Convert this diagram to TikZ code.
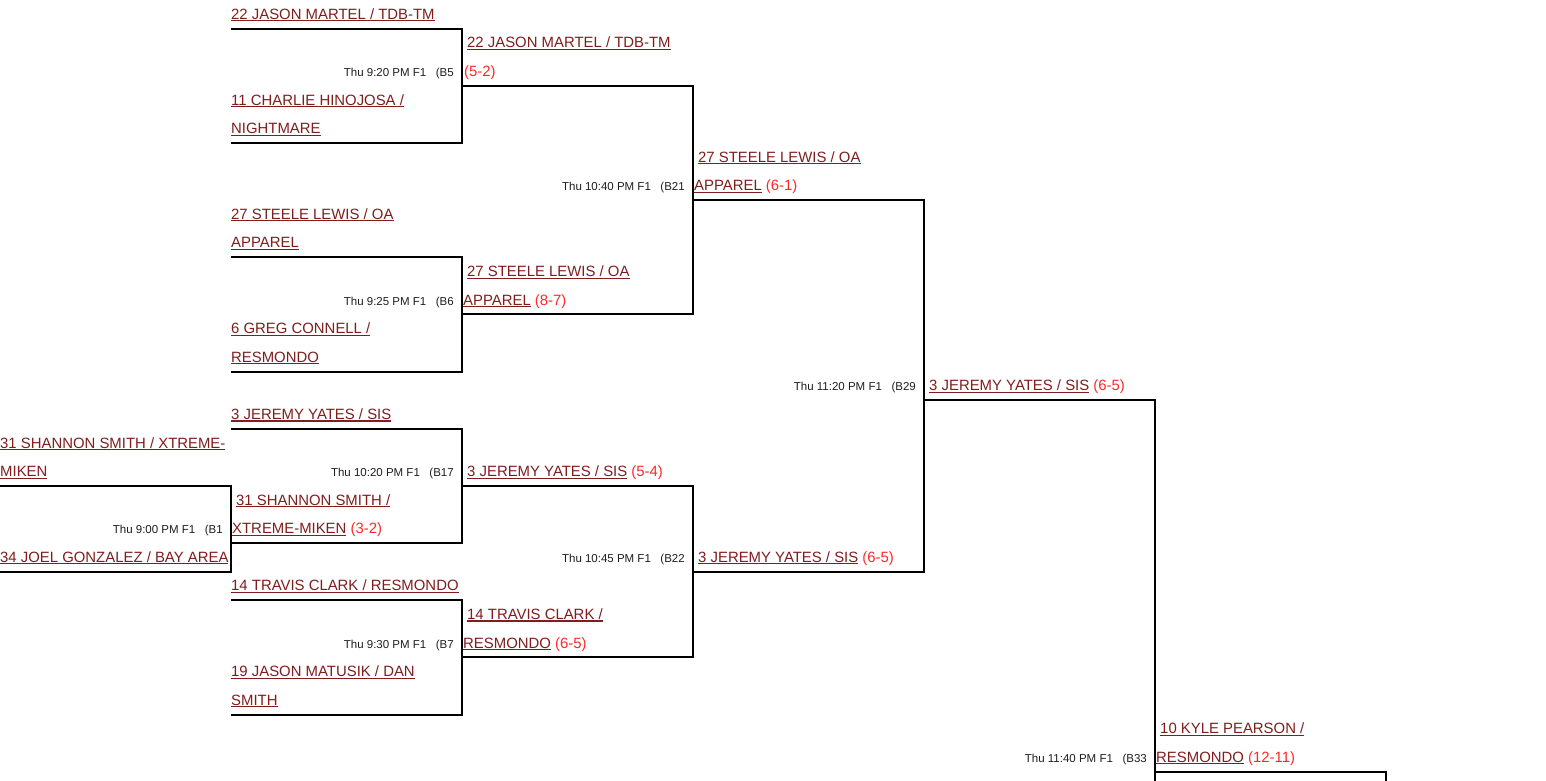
\documentclass[tikz,border=0pt]{standalone}
\usepackage{fontspec}
\setmainfont{Liberation Sans}
\definecolor{teamc}{RGB}{128,30,30}
\definecolor{scorec}{RGB}{255,40,40}
\definecolor{infoc}{RGB}{30,30,30}
\newsavebox\ulbox
\newcommand\ulx[1]{\sbox\ulbox{#1}\rlap{\rule[-2.1pt]{\wd\ulbox}{1.1pt}}\usebox\ulbox}
\newcommand\sco[1]{\textcolor{scorec}{#1}}
\newcommand\mybracket[5]{%
  \coordinate (#1a) at (#2,#4);
  \coordinate (#1b) at (#3,#4);
  \coordinate (#1c) at (#3,#5);
  \coordinate (#1d) at (#2,#5);
  \draw[bline] (#1a) -- (#1b) -- (#1c) -- (#1d);}
\begin{document}
\begin{tikzpicture}[x=1pt,y=-1pt,
  bline/.style={draw=black,line width=2pt,line join=miter},
  team/.style={inner sep=0pt,anchor=base west,text=teamc,font=\fontsize{14.9pt}{16pt}\selectfont},
  info/.style={inner sep=0pt,anchor=base east,text=infoc,font=\fontsize{11.5pt}{13pt}\selectfont}]
\useasboundingbox (0,0) rectangle (1546,781);
\clip (0,0) rectangle (1546,781);
\fill[white] (0,0) rectangle (1546,781);
% brackets
\mybracket{B5}{231}{462}{28.58}{142.9}
\mybracket{B6}{231}{462}{257.22}{371.54}
\mybracket{B17}{231}{462}{428.7}{543.02}
\mybracket{B1}{0}{231}{485.86}{571.6}
\mybracket{B7}{231}{462}{600.18}{714.5}
\mybracket{B21}{462}{693}{85.74}{314.38}
\mybracket{B22}{462}{693}{485.86}{657.34}
\mybracket{B29}{693}{924}{200.06}{571.6}
\coordinate (B33a) at (924,400.12);
\coordinate (B33b) at (1155,400.12);
\coordinate (B33c) at (1155,800);
\draw[bline] (B33a) -- (B33b) -- (B33c);
\coordinate (Nxa) at (1155,771.66);
\coordinate (Nxb) at (1386,771.66);
\coordinate (Nxc) at (1386,800);
\draw[bline] (Nxa) -- (Nxb) -- (Nxc);
% entrants
\node[team] (e1) at (231,19.3) {\ulx{22 JASON MARTEL / TDB-TM}};
\node[team] (e2) at (231,105.04) {\ulx{11 CHARLIE HINOJOSA /}};
\node[team] (e2b) at (231,133.62) {\ulx{NIGHTMARE}};
\node[team] (e3) at (231,219.36) {\ulx{27 STEELE LEWIS / OA}};
\node[team] (e3b) at (231,247.94) {\ulx{APPAREL}};
\node[team] (e4) at (231,333.68) {\ulx{6 GREG CONNELL /}};
\node[team] (e4b) at (231,362.26) {\ulx{RESMONDO}};
\node[team] (e5) at (231,419.42) {\ulx{3 JEREMY YATES / SIS}};
\node[team] (e6) at (0,448.0) {\ulx{31 SHANNON SMITH / XTREME-}};
\node[team] (e6b) at (0,476.58) {\ulx{MIKEN}};
\node[team] (e7) at (0,562.32) {\ulx{34 JOEL GONZALEZ / BAY AREA}};
\node[team] (e8) at (231,590.9) {\ulx{14 TRAVIS CLARK / RESMONDO}};
\node[team] (e9) at (231,676.64) {\ulx{19 JASON MATUSIK / DAN}};
\node[team] (e9b) at (231,705.22) {\ulx{SMITH}};
\node[team] (e10) at (231,792.5) {\ulx{16 BENJAMIN DUNN /}};
% B5
\node[info] (iB5) at (454,76.46) {Thu 9:20 PM F1\ \ \ (B5};
\node[team] (wB5) at (467,47.88) {\ulx{22 JASON MARTEL / TDB-TM}};
\node[team] (sB5) at (464,76.46) {\sco{(5-2)}};
% B6
\node[info] (iB6) at (454,305.1) {Thu 9:25 PM F1\ \ \ (B6};
\node[team] (wB6) at (467,276.52) {\ulx{27 STEELE LEWIS / OA}};
\node[team] (sB6) at (463,305.1) {\ulx{APPAREL} \sco{(8-7)}};
% B17
\node[info] (iB17) at (454,476.58) {Thu 10:20 PM F1\ \ \ (B17};
\node[team] (wB17) at (467,476.58) {\ulx{3 JEREMY YATES / SIS} \sco{(5-4)}};
% B1
\node[info] (iB1) at (223,533.74) {Thu 9:00 PM F1\ \ \ (B1};
\node[team] (wB1) at (236,505.16) {\ulx{31 SHANNON SMITH /}};
\node[team] (sB1) at (232,533.74) {\ulx{XTREME-MIKEN} \sco{(3-2)}};
% B7
\node[info] (iB7) at (454,648.06) {Thu 9:30 PM F1\ \ \ (B7};
\node[team] (wB7) at (467,619.48) {\ulx{14 TRAVIS CLARK /}};
\node[team] (sB7) at (463,648.06) {\ulx{RESMONDO} \sco{(6-5)}};
% B21
\node[info] (iB21) at (685,190.78) {Thu 10:40 PM F1\ \ \ (B21};
\node[team] (wB21) at (698,162.2) {\ulx{27 STEELE LEWIS / OA}};
\node[team] (sB21) at (694,190.78) {\ulx{APPAREL} \sco{(6-1)}};
% B22
\node[info] (iB22) at (685,562.32) {Thu 10:45 PM F1\ \ \ (B22};
\node[team] (wB22) at (698,562.32) {\ulx{3 JEREMY YATES / SIS} \sco{(6-5)}};
% B29
\node[info] (iB29) at (916,390.84) {Thu 11:20 PM F1\ \ \ (B29};
\node[team] (wB29) at (929,390.84) {\ulx{3 JEREMY YATES / SIS} \sco{(6-5)}};
% B33
\node[info] (iB33) at (1147,762.38) {Thu 11:40 PM F1\ \ \ (B33};
\node[team] (wB33) at (1160,733.8) {\ulx{10 KYLE PEARSON /}};
\node[team] (sB33) at (1156,762.38) {\ulx{RESMONDO} \sco{(12-11)}};
\end{tikzpicture}
\end{document}
